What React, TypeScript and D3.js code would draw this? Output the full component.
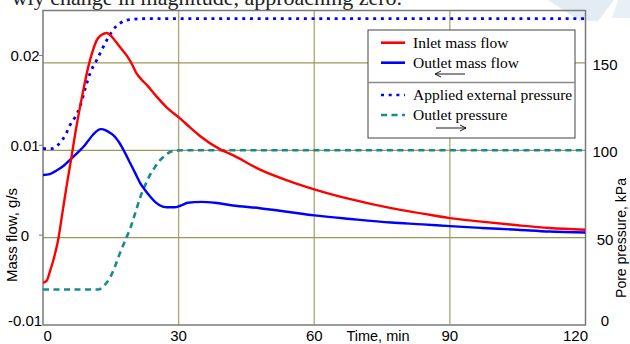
import React from "react";
import * as d3 from "d3";

// ---- data ----
const inletT = [0, 0.8, 1.5, 2.5, 3.4, 4.3, 5.2, 6.3, 7.2, 8.2, 9.1, 10, 11, 11.9, 13, 14.1, 15.2, 16.3, 17.4, 18.5, 19.6, 20.7, 22, 23, 25, 27.4, 30.3, 32.5, 34.8, 39, 42, 48, 54, 60, 68, 77, 84, 90, 97, 105, 112, 120];
const inletFlow = [-0.0053, -0.0051, -0.0041, -0.0024, -0.0004, 0.0025, 0.0054, 0.0087, 0.0115, 0.0143, 0.0166, 0.0187, 0.0205, 0.0217, 0.0223, 0.0225, 0.0221, 0.0214, 0.0207, 0.02, 0.0191, 0.018, 0.0172, 0.0167, 0.0155, 0.0142, 0.013, 0.012, 0.011, 0.0096, 0.0089, 0.0073, 0.0061, 0.0051, 0.004, 0.003, 0.0024, 0.0019, 0.0015, 0.0011, 0.0008, 0.0006];

const outletT = [0, 1.5, 3, 4.5, 6, 7.5, 8.9, 10, 11.1, 12.2, 12.8, 13.8, 14.8, 16, 17, 18.2, 19.3, 20.4, 21.5, 22.6, 23.7, 24.8, 25.9, 27.4, 29, 30.5, 32, 35, 38, 42, 48, 54, 60, 68, 77, 84, 90, 97, 105, 112, 120];
const outletFlow = [0.0067, 0.0068, 0.0072, 0.0077, 0.0084, 0.0091, 0.0098, 0.0105, 0.0112, 0.0117, 0.0118, 0.0117, 0.0114, 0.0109, 0.0102, 0.0091, 0.008, 0.0069, 0.0058, 0.005, 0.0043, 0.0037, 0.0033, 0.0031, 0.0031, 0.0033, 0.0036, 0.0037, 0.0036, 0.0033, 0.003, 0.0026, 0.0022, 0.0018, 0.0014, 0.0012, 0.001, 0.0008, 0.0006, 0.0004, 0.0003];

const appliedT = [0, 2, 3.3, 4.3, 5.2, 6, 7.1, 8.2, 9.3, 10.4, 11.9, 13, 14.1, 15, 16, 17.2, 18.5, 20, 22, 120];
const appliedP = [101, 101, 103, 106, 110, 114.5, 119, 125, 135, 144, 151.7, 157.5, 163, 167, 170.5, 173, 174.5, 175, 175.3, 175.3];

const outletPT = [0, 12.2, 13.5, 14.8, 16, 17, 18.2, 19.3, 20.4, 21.5, 22.6, 23.7, 24.8, 25.9, 27, 28.1, 29.3, 31, 120];
const outletP = [20.3, 20.3, 22.5, 27, 34, 41, 48.5, 55.3, 64, 73, 80, 86, 90.5, 94.4, 97, 99, 99.8, 100, 100];

const xTicks = [0, 30, 60, 90, 120];
const leftTicks = [-0.01, 0, 0.01, 0.02];
const leftTickLabels = ["-0.01", "0", "0.01", "0.02"];
const rightTicks = [0, 50, 100, 150];

const legendItems = [
  { label: "Inlet mass flow", color: "#ff0000", dash: "none" },
  { label: "Outlet mass flow", color: "#0000ff", dash: "none" },
  { label: "Applied external pressure", color: "#0000ff", dash: "3 4.7" },
  { label: "Outlet pressure", color: "#168b8b", dash: "6 4.5" },
];

const SANS = "'Liberation Sans', Arial, sans-serif";
const SERIF = "'Liberation Serif', 'Times New Roman', serif";

export default function App() {
  const L = 43, R = 585.5, T = 10.5, B = 325;
  const x = d3.scaleLinear().domain([0, 120]).range([L, R]);
  const yL = d3.scaleLinear().domain([-0.01, 0.025]).range([B, T]);
  const yR = d3.scaleLinear().domain([0, 180]).range([B, T]);

  const mk = (ts: number[], vs: number[], y: d3.ScaleLinear<number, number>) =>
    d3.line<number>().x((_, i) => x(ts[i])).y((v) => y(v)).curve(d3.curveMonotoneX)(vs) || "";

  const inletPath = mk(inletT, inletFlow, yL);
  const outletPath = mk(outletT, outletFlow, yL);
  const appliedPath = mk(appliedT, appliedP, yR);
  const outletPPath = mk(outletPT, outletP, yR);

  const grid = "#9d9858";
  const frame = "#7a7a7a";

  const legX = 368, legY = 30, legW = 207, legH = 108;

  return (
    <svg width={630} height={344} style={{ position: "absolute", left: 0, top: 0, background: "#fff" }}>
      <defs>
        <clipPath id="plotclip">
          <rect x={L} y={T - 3} width={R - L} height={B - T + 3} />
        </clipPath>
        <marker id="arrL" markerWidth="8" markerHeight="8" refX="1" refY="4" orient="auto" markerUnits="userSpaceOnUse">
          <path d="M7,1 L1,4 L7,7" fill="none" stroke="#000" strokeWidth={0.9} />
        </marker>
        <marker id="arrR" markerWidth="8" markerHeight="8" refX="7" refY="4" orient="auto" markerUnits="userSpaceOnUse">
          <path d="M1,1 L7,4 L1,7" fill="none" stroke="#000" strokeWidth={0.9} />
        </marker>
      </defs>

      {/* background decoration */}
      <polygon points="548,0 614,0 598,21 580,21" fill="#e4ecf3" />
      <polygon points="618,0 630,0 630,18 612,18" fill="#e8eff5" />
      <text x={402} y={5} textAnchor="end" fontFamily={SERIF} fontSize={22} fill="#222">
        wly change in magnitude, approaching zero.
      </text>

      {/* grid */}
      {xTicks.slice(1, -1).map((t) => (
        <line key={"vx" + t} x1={x(t)} x2={x(t)} y1={T} y2={B} stroke={grid} strokeWidth={1.3} opacity={0.85} />
      ))}
      {rightTicks.slice(1).map((t) => (
        <line key={"hy" + t} x1={L} x2={R} y1={yR(t)} y2={yR(t)} stroke={grid} strokeWidth={1.2} />
      ))}

      {/* frame */}
      <rect x={L} y={T} width={R - L} height={B - T} fill="none" stroke={frame} strokeWidth={1.5} />
      {leftTicks.slice(1).map((t) => (
        <line key={"lt" + t} x1={L - 4} x2={L} y1={yL(t)} y2={yL(t)} stroke={frame} strokeWidth={1} />
      ))}

      {/* series */}
      <g clipPath="url(#plotclip)" fill="none">
        <path d={outletPPath} stroke="#168b8b" strokeWidth={2.6} strokeDasharray="6 4.5" />
        <path d={appliedPath} stroke="#0000ff" strokeWidth={2.8} strokeDasharray="3 4.7" />
        <path d={outletPath} stroke="#0000ff" strokeWidth={2.4} />
        <path d={inletPath} stroke="#ff0000" strokeWidth={2.4} />
      </g>

      {/* left axis labels */}
      {leftTicks.map((t, i) => (
        <text key={"ll" + t} x={25} y={Math.min(yL(t), 321)} dy="0.36em" textAnchor="middle" fontFamily={SANS} fontSize={15} fill="#000">
          {leftTickLabels[i]}
        </text>
      ))}
      {/* right axis labels */}
      {rightTicks.map((t) => (
        <text key={"rl" + t} x={605} y={Math.min(yR(t) + 1.5, 321)} dy="0.36em" textAnchor="middle" fontFamily={SANS} fontSize={15} fill="#000">
          {t}
        </text>
      ))}
      {/* x labels */}
      {xTicks.map((t, i) => (
        <text
          key={"xl" + t}
          x={i === 0 ? L + 0.5 : i === xTicks.length - 1 ? R + 2.5 : x(t)}
          y={341}
          textAnchor={i === 0 ? "start" : i === xTicks.length - 1 ? "end" : "middle"}
          fontFamily={SANS}
          fontSize={15}
          fill="#000"
        >
          {t}
        </text>
      ))}
      <text x={378} y={341} textAnchor="middle" fontFamily={SANS} fontSize={14.5} fill="#000">
        Time, min
      </text>
      <text transform="translate(17,235) rotate(-90)" textAnchor="middle" fontFamily={SANS} fontSize={15} fill="#000">
        Mass flow, g/s
      </text>
      <text transform="translate(626,238) rotate(-90)" textAnchor="middle" fontFamily={SANS} fontSize={14} fill="#000">
        Pore pressure, kPa
      </text>

      {/* legend */}
      <rect x={legX} y={legY} width={legW} height={legH} fill="#fff" stroke="#444" strokeWidth={1} />
      <line x1={legX} x2={legX + legW} y1={82.5} y2={82.5} stroke="#8a8a8a" strokeWidth={1.6} />
      {legendItems.map((it, i) => {
        const cy = [42.7, 62.7, 95, 115][i];
        return (
          <g key={it.label}>
            <line x1={381} x2={405} y1={cy} y2={cy} stroke={it.color} strokeWidth={2.6} strokeDasharray={it.dash} />
            <text x={413} y={cy} dy="0.33em" fontFamily={SERIF} fontSize={15.5} fill="#000">
              {it.label}
            </text>
          </g>
        );
      })}
      <line x1={435} x2={465} y1={74} y2={74} stroke="#000" strokeWidth={0.9} markerStart="url(#arrL)" />
      <line x1={436} x2={466} y1={128} y2={128} stroke="#000" strokeWidth={0.9} markerEnd="url(#arrR)" />
    </svg>
  );
}
